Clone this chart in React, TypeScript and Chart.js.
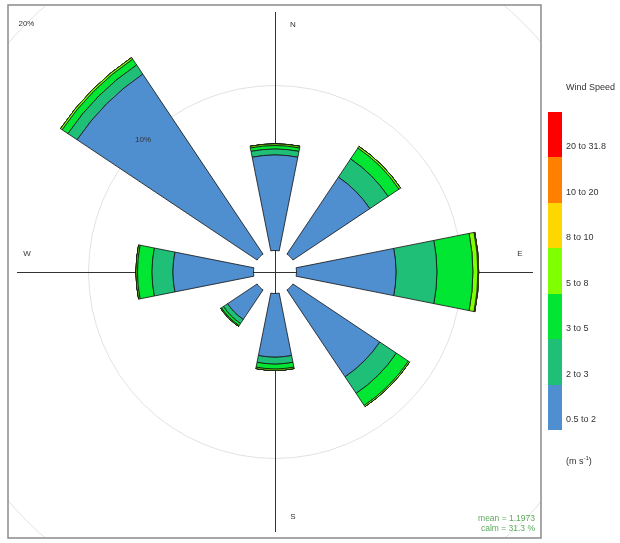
import React, { useEffect, useRef } from 'react';
import { Chart, registerables } from 'chart.js';

Chart.register(...registerables);

// ---- data ----
const directions = ['N', 'NE', 'E', 'SE', 'S', 'SW', 'W', 'NW'];
const speedBands = ['0.5 to 2', '2 to 3', '3 to 5', '5 to 8', '8 to 10', '10 to 20', '20 to 31.8'];
const bandColors = ['#4F8FD0', '#1FBF78', '#00E632', '#80FF00', '#FFD700', '#FF8000', '#FF0000'];
const freq05to2 = [5.79, 5.61, 6.03, 6.33, 3.85, 2.15, 4.88, 13.12];
const freq2to3 = [0.36, 1.33, 2.48, 1.21, 0.42, 0.3, 1.27, 0.67];
const freq3to5 = [0.21, 0.79, 2.18, 0.88, 0.3, 0.15, 0.88, 0.42];
const freq5to8 = [0.1, 0.12, 0.3, 0.09, 0.09, 0.06, 0.09, 0.12];
const freq8to10 = [0, 0, 0.05, 0, 0, 0, 0, 0];
const freq10to20 = [0, 0, 0, 0, 0, 0, 0, 0];
const freq20to31 = [0, 0, 0, 0, 0, 0, 0, 0];
const gridPercents = [10, 20];
const meanSpeed = '1.1973';
const calmPercent = '31.3';

const bandSeries = [freq05to2, freq2to3, freq3to5, freq5to8, freq8to10, freq10to20, freq20to31];

const FONT = '"Liberation Sans", Arial, sans-serif';

function buildData() {
  const labels: string[] = [];
  directions.forEach((d) => {
    labels.push(d);
    labels.push('');
  });
  const cumulative = directions.map(() => 0);
  const datasets = bandSeries.map((series, b) => {
    const data: number[] = [];
    series.forEach((v, i) => {
      cumulative[i] += v;
      data.push(cumulative[i]);
      data.push(0);
    });
    return {
      label: speedBands[b],
      data,
      backgroundColor: bandColors[b],
      borderColor: '#111111',
      borderWidth: (ctx: any) => (ctx.dataIndex % 2 === 1 ? 0 : 0.8),
    };
  });
  return { labels, datasets };
}

const rosePlugin = {
  id: 'rosePlugin',
  afterDatasetsUpdate(chart: any) {
    const scale = chart.scales.r;
    const base = scale.getDistanceFromCenterForValue(0);
    const n = chart.data.datasets.length;
    for (let d = 0; d < n; d++) {
      const meta = chart.getDatasetMeta(d);
      const prev = d > 0 ? chart.getDatasetMeta(d - 1) : null;
      meta.data.forEach((arc: any, i: number) => {
        arc.innerRadius = prev ? prev.data[i].outerRadius : base;
      });
    }
  },
  beforeDraw(chart: any) {
    const { ctx, chartArea } = chart;
    ctx.save();
    ctx.beginPath();
    ctx.rect(chartArea.left - 1, chartArea.top - 1, chartArea.right - chartArea.left + 1, chartArea.bottom - chartArea.top + 1);
    ctx.clip();
  },
  beforeDatasetsDraw(chart: any) {
    const { ctx } = chart;
    const scale = chart.scales.r;
    const cx = scale.xCenter;
    const cy = scale.yCenter;
    ctx.save();
    ctx.strokeStyle = '#333333';
    ctx.lineWidth = 1;
    ctx.beginPath();
    ctx.moveTo(cx + 0.5, cy - 260);
    ctx.lineTo(cx + 0.5, cy + 260);
    ctx.moveTo(cx - 258, cy + 0.5);
    ctx.lineTo(cx + 258, cy + 0.5);
    ctx.stroke();
    ctx.restore();
  },
  afterDatasetsDraw(chart: any) {
    const { ctx } = chart;
    const scale = chart.scales.r;
    const cx = scale.xCenter;
    const cy = scale.yCenter;
    ctx.save();
    ctx.fillStyle = '#333333';
    ctx.font = `8px ${FONT}`;
    ctx.textAlign = 'center';
    ctx.textBaseline = 'middle';
    gridPercents.forEach((p) => {
      const r = scale.getDistanceFromCenterForValue(p) * Math.SQRT1_2;
      ctx.fillText(`${p}%`, cx - r, cy - r);
    });
    ctx.fillText('N', cx + 18, cy - 247);
    ctx.fillText('S', cx + 18, cy + 245);
    ctx.fillText('E', cx + 245, cy - 18);
    ctx.fillText('W', cx - 248, cy - 18);
    ctx.restore();
  },
  afterDraw(chart: any) {
    const { ctx, chartArea } = chart;
    ctx.restore();
    ctx.save();
    ctx.strokeStyle = '#8A8A8A';
    ctx.lineWidth = 1.5;
    ctx.strokeRect(chartArea.left - 1, chartArea.top - 1, chartArea.right - chartArea.left + 1, chartArea.bottom - chartArea.top + 1);
    ctx.fillStyle = '#5DAA5D';
    ctx.font = `8.5px ${FONT}`;
    ctx.textAlign = 'right';
    ctx.textBaseline = 'middle';
    ctx.fillText(`mean = ${meanSpeed}`, chartArea.right - 6, chartArea.bottom - 19);
    ctx.fillText(`calm = ${calmPercent} %`, chartArea.right - 6, chartArea.bottom - 9);
    ctx.restore();
  },
};

export default function App() {
  const canvasRef = useRef<HTMLCanvasElement | null>(null);

  useEffect(() => {
    document.body.style.margin = '0';
    const canvas = canvasRef.current;
    if (!canvas) return;
    const { labels, datasets } = buildData();
    const chart = new Chart(canvas, {
      type: 'polarArea',
      data: { labels, datasets } as any,
      options: {
        responsive: false,
        animation: false,
        events: [],
        devicePixelRatio: 1,
        layout: { padding: { left: 9, top: 6, right: 79, bottom: 5 } },
        plugins: {
          legend: { display: false },
          tooltip: { enabled: false },
          title: { display: false },
        },
        scales: {
          r: {
            min: -1.303,
            max: 14.818,
            startAngle: -11.25,
            ticks: { display: false },
            afterBuildTicks: (scale: any) => {
              scale.ticks = gridPercents.map((v) => ({ value: v }));
            },
            grid: { display: true, circular: true, color: '#E2E2E2', lineWidth: 1 },
            angleLines: { display: false },
            pointLabels: { display: false },
          },
        },
      } as any,
      plugins: [rosePlugin],
    });
    return () => chart.destroy();
  }, []);

  const barTop = 112;
  const barHeight = 318;
  const bandH = barHeight / speedBands.length;
  const topDown = speedBands.map((label, i) => ({ label, color: bandColors[i] })).reverse();

  return (
    <div style={{ position: 'absolute', left: 0, top: 0, width: 620, height: 543, background: '#fff', fontFamily: FONT }}>
      <canvas ref={canvasRef} width={620} height={543} style={{ position: 'absolute', left: 0, top: 0 }} />
      <div style={{ position: 'absolute', left: 566, top: 82, fontSize: 9, color: '#333', whiteSpace: 'nowrap' }}>Wind Speed</div>
      {topDown.map((b, i) => (
        <div
          key={b.label}
          style={{ position: 'absolute', left: 548, top: barTop + i * bandH, width: 14, height: bandH + 0.5, background: b.color }}
        />
      ))}
      {topDown.map((b, i) => (
        <div
          key={'l' + b.label}
          style={{ position: 'absolute', left: 566, top: barTop + (i + 1) * bandH - 17, fontSize: 9, lineHeight: '12px', color: '#333', whiteSpace: 'nowrap' }}
        >
          {b.label}
        </div>
      ))}
      <div style={{ position: 'absolute', left: 566, top: 452, fontSize: 9, lineHeight: '12px', color: '#333', whiteSpace: 'nowrap' }}>
        (m s<sup style={{ fontSize: 6 }}>-1</sup>)
      </div>
    </div>
  );
}
